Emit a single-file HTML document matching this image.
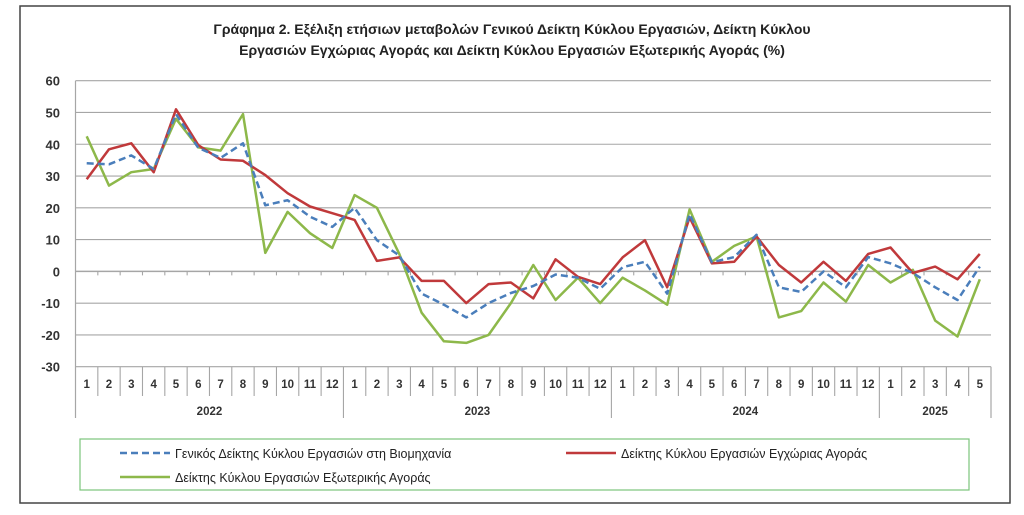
<!DOCTYPE html>
<html><head><meta charset="utf-8">
<style>
html,body{margin:0;padding:0;background:#fff;}
svg{display:block;font-family:"Liberation Sans","DejaVu Sans",sans-serif;}
</style></head>
<body>
<svg id="chart" width="1024" height="515" viewBox="0 0 1024 515" xmlns="http://www.w3.org/2000/svg">
<rect x="20" y="6" width="990" height="497" fill="#fff" stroke="#444" stroke-width="1.5"/>
<text x="512" y="34" text-anchor="middle" font-size="14" font-weight="bold" fill="#222">Γράφημα 2. Εξέλιξη ετήσιων μεταβολών Γενικού Δείκτη Κύκλου Εργασιών,  Δείκτη Κύκλου</text>
<text x="512" y="55" text-anchor="middle" font-size="14" font-weight="bold" fill="#222">Εργασιών Εγχώριας Αγοράς και Δείκτη Κύκλου Εργασιών Εξωτερικής Αγοράς (%)</text>
<g id="grid"></g>
<g id="xaxis"></g>
<g id="series"></g>
<rect x="80" y="439" width="889" height="51" fill="none" stroke="#7cc47c" stroke-width="1.2"/>
<g>
<line x1="120" y1="453" x2="170" y2="453" stroke="#4a7ebb" stroke-width="2.5" stroke-dasharray="7,4"/>
<text x="175" y="458" font-size="12.5" fill="#222">Γενικός Δείκτης Κύκλου Εργασιών στη Βιομηχανία</text>
</g>
<g>
<line x1="566" y1="453" x2="616" y2="453" stroke="#c0393b" stroke-width="2.5"/>
<text x="621" y="458" font-size="12.5" fill="#222">Δείκτης Κύκλου Εργασιών Εγχώριας Αγοράς</text>
</g>
<g>
<line x1="120" y1="477" x2="170" y2="477" stroke="#8db84a" stroke-width="2.5"/>
<text x="175" y="482" font-size="12.5" fill="#222">Δείκτης Κύκλου Εργασιών Εξωτερικής Αγοράς</text>
</g>
</svg>
<script>
const years = ["2022","2023","2024","2025"];
const monthsPerYear = [12,12,12,5];
const yTicks = [60,50,40,30,20,10,0,-10,-20,-30];
const industry = [34,33.7,36.5,32.2,49.5,38.9,35.7,40.3,20.8,22.4,17.2,14,
  20,9.8,5,-7,-10.5,-14.5,-10,-6.8,-4.6,-1,-2,-5.5,
  1.3,3,-7,18,2.9,4.5,11.5,-5,-6.5,0,-5,4.5,
  2.5,-0.5,-5,-9,1.5];
const domestic = [29,38.4,40.3,31.2,51,39.7,35.2,34.8,30.3,24.6,20.4,18.3,
  16.2,3.3,4.4,-3,-3,-10,-4,-3.5,-8.5,3.8,-1.7,-4,
  4.4,9.8,-5,17,2.5,3,11,2,-3.5,3,-3,5.5,
  7.5,-0.5,1.5,-2.5,5.5];
const external = [42.5,27,31.2,32.2,48,39,38,49.5,5.8,18.7,12,7.4,
  24,20,5.5,-13,-22,-22.5,-20,-10,2,-9,-2,-10,
  -2,-6,-10.5,19.5,3,8,11,-14.5,-12.5,-3.5,-9.5,2,
  -3.5,0.5,-15.5,-20.5,-2.5];

const NS="http://www.w3.org/2000/svg";
const L=75.5,R=991,T=80.7,B=366.7,yMax=60,yMin=-30;
const N=monthsPerYear.reduce((a,b)=>a+b,0);
const cw=(R-L)/N;
const yS=v=>T+(yMax-v)/(yMax-yMin)*(B-T);
const xS=i=>L+cw*(i+0.5);
function mk(tag,attrs,parent){const e=document.createElementNS(NS,tag);for(const k in attrs)e.setAttribute(k,attrs[k]);parent.appendChild(e);return e;}
const grid=document.getElementById('grid');
yTicks.forEach(t=>{
  const ln=mk('line',{x1:L,x2:R,y1:yS(t),y2:yS(t),stroke:'#a6a6a6','stroke-width':t===0?1.4:1.1},grid);
  
  
  const tx=mk('text',{x:60,y:yS(t)+5,'text-anchor':'end','font-size':13,'font-weight':'bold',fill:'#333'},grid);
  tx.textContent=t;
  
  
});
const ax=document.getElementById('xaxis');
const yl=mk('line',{x1:L,x2:L,y1:T,y2:418,stroke:'#a6a6a6','stroke-width':1.2},ax);


const rl=mk('line',{x1:R,x2:R,y1:B,y2:418,stroke:'#a6a6a6','stroke-width':1.2},ax);


let idx=0;
years.forEach((yr,yi)=>{
  const start=idx;
  for(let m=1;m<=monthsPerYear[yi];m++){
    const tx=mk('text',{x:xS(idx),y:388,'text-anchor':'middle','font-size':11.5,'font-weight':'bold',fill:'#333'},ax);
    tx.textContent=m;
    
    
    if(idx>0){
      const big=(m===1);
      const sl=mk('line',{x1:L+cw*idx,x2:L+cw*idx,y1:B,y2:big?418:396,stroke:'#a6a6a6','stroke-width':1.1},ax);
      
      
      const tk=mk('line',{x1:L+cw*idx,x2:L+cw*idx,y1:yS(0),y2:yS(0)+4,stroke:'#a6a6a6','stroke-width':1.1},ax);
      
      
    }
    idx++;
  }
  const yt=mk('text',{x:L+cw*(start+idx)/2,y:415,'text-anchor':'middle','font-size':11.5,'font-weight':'bold',fill:'#333'},ax);
  yt.textContent=yr;
  
  
});
const sg=document.getElementById('series');
function line(data,color,dash,name){
  const p=mk('polyline',{points:data.map((v,i)=>xS(i).toFixed(1)+','+yS(v).toFixed(1)).join(' '),fill:'none',stroke:color,'stroke-width':2.5,'stroke-linejoin':'round'},sg);
  if(dash)p.setAttribute('stroke-dasharray',dash);
  
  
}
line(external,'#8db84a',null,'series-external');
line(domestic,'#c0393b',null,'series-domestic');
line(industry,'#4a7ebb','7,4','series-industry');
</script>
</body></html>
